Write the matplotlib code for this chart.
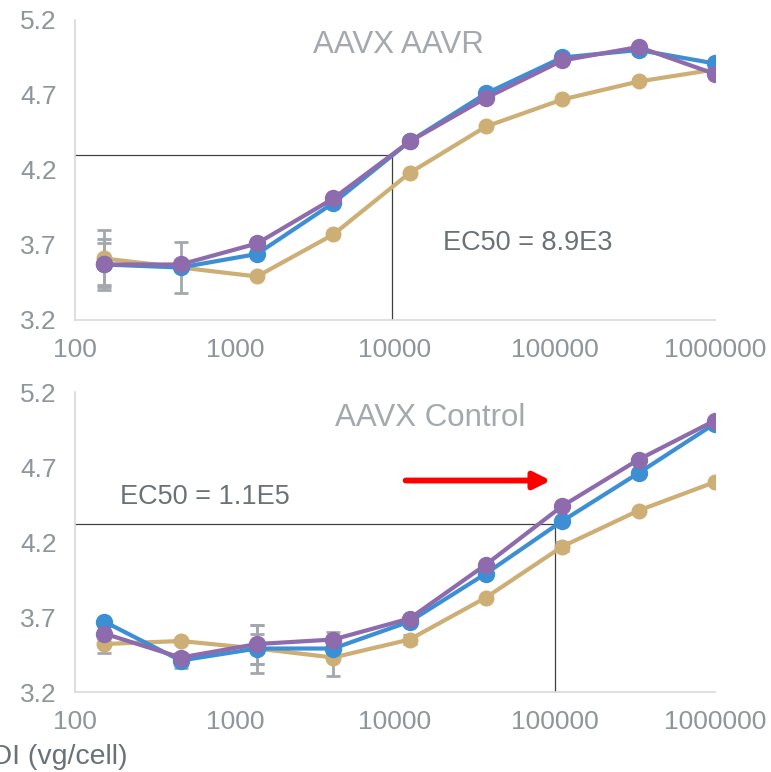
import numpy as np
import matplotlib
matplotlib.use("Agg")
import matplotlib.pyplot as plt

plt.rcParams['font.family'] = ['Liberation Sans', 'DejaVu Sans']

# 3-fold serial dilution of MOI (vg/cell)
moi = [152, 457, 1372, 4115, 12346, 37037, 111111, 333333, 1000000]

# top panel: AAVX AAVR
aavr_blue = [3.57, 3.55, 3.64, 3.98, 4.39, 4.71, 4.95, 5.00, 4.91]
aavr_purple = [3.57, 3.57, 3.71, 4.01, 4.39, 4.68, 4.93, 5.02, 4.84]
aavr_tan = [3.61, 3.55, 3.49, 3.77, 4.18, 4.49, 4.67, 4.79, 4.87]
aavr_blue_err = [0.17, 0.0, 0.0, 0.0, 0.0, 0.0, 0.0, 0.0, 0.0]
aavr_purple_err = [0.14, 0.0, 0.0, 0.0, 0.0, 0.0, 0.0, 0.0, 0.0]
aavr_tan_err = [0.19, 0.17, 0.0, 0.0, 0.0, 0.0, 0.0, 0.0, 0.0]

# bottom panel: AAVX Control
ctrl_blue = [3.67, 3.41, 3.49, 3.49, 3.67, 3.99, 4.34, 4.66, 4.99]
ctrl_purple = [3.59, 3.43, 3.52, 3.55, 3.69, 4.05, 4.44, 4.75, 5.01]
ctrl_tan = [3.52, 3.54, 3.49, 3.43, 3.55, 3.83, 4.17, 4.41, 4.60]
ctrl_blue_err = [0.0, 0.05, 0.10, 0.0, 0.0, 0.0, 0.0, 0.0, 0.0]
ctrl_purple_err = [0.0, 0.0, 0.13, 0.05, 0.0, 0.0, 0.0, 0.0, 0.0]
ctrl_tan_err = [0.06, 0.0, 0.16, 0.12, 0.03, 0.0, 0.03, 0.0, 0.0]

panels = [
    ("AAVX AAVR", aavr_tan, aavr_blue, aavr_purple,
     aavr_tan_err, aavr_blue_err, aavr_purple_err,
     9600, 4.3, "EC50 = 8.9E3"),
    ("AAVX Control", ctrl_tan, ctrl_blue, ctrl_purple,
     ctrl_tan_err, ctrl_blue_err, ctrl_purple_err,
     100000, 4.32, "EC50 = 1.1E5"),
]

yticks = [3.2, 3.7, 4.2, 4.7, 5.2]
xticks = [100, 1000, 10000, 100000, 1000000]
xticklabels = ["100", "1000", "10000", "100000", "1000000"]

c_tan = '#CDAE74'
c_blue = '#3D8FD5'
c_purple = '#8E6BAD'
c_err = '#A3A8AD'
c_tick = '#8E959B'
c_title = '#A3A9AE'
c_text = '#6A7177'

fig = plt.figure(figsize=(7.71, 7.72), dpi=100)
ax_top = fig.add_axes([0.0973, 0.5855, 0.830, 0.3886])
ax_bot = fig.add_axes([0.0973, 0.1036, 0.830, 0.3886])

for ax, p in zip([ax_top, ax_bot], panels):
    title, tan, blue, purple, e_tan, e_blue, e_purple, ec_x, ec_y, ec_txt = p
    for vals, errs, col, ms in [(tan, e_tan, c_tan, 10.5), (blue, e_blue, c_blue, 11.5), (purple, e_purple, c_purple, 11.5)]:
        errs = np.array(errs)
        mask = errs > 0
        ax.errorbar(np.array(moi)[mask], np.array(vals)[mask], yerr=errs[mask], fmt='none',
                    ecolor=c_err, elinewidth=2, capsize=5, capthick=2, zorder=1)
        ax.plot(moi, vals, '-o', color=col, lw=3, ms=ms, zorder=2)
    # EC50 guide lines
    ax.plot([100, ec_x], [ec_y, ec_y], color='#404040', lw=0.9, zorder=0)
    ax.plot([ec_x, ec_x], [3.2, ec_y], color='#404040', lw=0.9, zorder=0)

    ax.set_xscale('log')
    ax.set_xlim(100, 1000000)
    ax.set_ylim(3.2, 5.2)
    ax.set_yticks(yticks)
    ax.set_yticklabels([f"{v:.1f}" for v in yticks])
    ax.set_xticks(xticks)
    ax.set_xticklabels(xticklabels)
    ax.minorticks_off()
    ax.tick_params(length=0, labelsize=19, colors=c_tick, pad=13)
    for s in ['top', 'right']:
        ax.spines[s].set_visible(False)
    for s in ['left', 'bottom']:
        ax.spines[s].set_color('#D9D9D9')
        ax.spines[s].set_linewidth(1.2)
    ax.patch.set_alpha(0)

ax_top.text(0.505, 0.915, "AAVX AAVR", transform=ax_top.transAxes, ha='center', va='center',
            fontsize=22.5, color=c_title)
ax_bot.text(0.555, 0.915, "AAVX Control", transform=ax_bot.transAxes, ha='center', va='center',
            fontsize=22.5, color=c_title)
ax_top.text(0.575, 0.255, "EC50 = 8.9E3", transform=ax_top.transAxes, ha='left', va='center',
            fontsize=19.5, color=c_text)
ax_bot.text(0.07, 0.65, "EC50 = 1.1E5", transform=ax_bot.transAxes, ha='left', va='center',
            fontsize=19.5, color=c_text)

# red arrow
ax_bot.annotate("", xy=(98000, 4.61), xytext=(11200, 4.61),
                arrowprops=dict(arrowstyle='-|>,head_length=1.0,head_width=0.5', color='#FF0000', lw=4.2))

fig.text(-0.044, 0.019, "MOI (vg/cell)", ha='left', va='center', fontsize=20.5, color=c_text)

fig.savefig("out.png", dpi=100)
